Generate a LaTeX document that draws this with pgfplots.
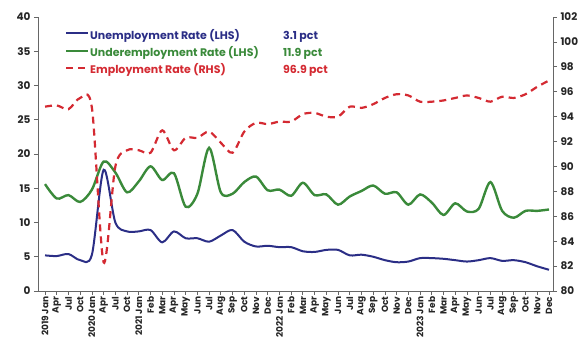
\documentclass[border=0pt]{standalone}
\usepackage{pgfplots}
\usepackage{pgfplotstable}
\pgfplotsset{compat=1.18}
\usepackage{fontspec}
\setmainfont{Poppins}
\definecolor{cblue}{HTML}{2B2E86}
\definecolor{cgreen}{HTML}{3A8A3A}
\definecolor{cred}{HTML}{D42A32}
\definecolor{axgray}{HTML}{666666}

\pgfplotstableread{
i u ud e
0 5.2 15.6 94.8
1 5.1 13.5 94.9
2 5.4 14.0 94.6
3 4.5 13.0 95.5
4 5.3 14.8 94.7
5 17.7 18.9 82.3
6 10.0 17.3 90.0
7 8.7 14.4 91.3
8 8.7 16.0 91.3
9 8.9 18.2 91.1
10 7.1 16.2 92.9
11 8.7 17.2 91.3
12 7.7 12.3 92.3
13 7.7 14.2 92.3
14 7.2 20.9 92.8
15 8.1 14.4 91.9
16 8.9 14.2 91.1
17 7.2 15.9 92.8
18 6.5 16.7 93.5
19 6.6 14.7 93.4
20 6.4 14.8 93.6
21 6.4 13.9 93.6
22 5.8 15.8 94.2
23 5.7 14.0 94.3
24 6.0 14.1 94.0
25 6.0 12.6 94.0
26 5.2 13.8 94.8
27 5.3 14.6 94.7
28 5.0 15.4 95.0
29 4.5 14.2 95.5
30 4.2 14.4 95.8
31 4.3 12.6 95.7
32 4.8 14.1 95.2
33 4.8 12.9 95.2
34 4.7 11.1 95.3
35 4.5 12.8 95.5
36 4.3 11.6 95.7
37 4.5 12.0 95.5
38 4.8 15.9 95.2
39 4.4 11.7 95.6
40 4.5 10.7 95.5
41 4.2 11.7 95.8
42 3.6 11.7 96.4
43 3.1 11.9 96.9
}\data

\pgfplotsset{
  common/.style={
    at={(38pt,51pt)}, anchor=south west,
    width=515pt, height=274pt, scale only axis,
    xmin=-0.6, xmax=43.34,
    tick align=outside, major tick length=4pt,
    axis line style={axgray, line width=0.8pt},
    tick style={axgray, line width=0.8pt},
    /pgf/number format/assume math mode=true,
    y tick label style={font=\fontsize{10.5}{12}\selectfont\bfseries, text=black!85},
  },
}

\begin{document}
\begin{tikzpicture}
\path[use as bounding box] (0,0) rectangle (584pt,342pt);
\begin{axis}[common,
  ymin=0, ymax=40,
  axis x line*=bottom, axis y line*=left,
  ytick={0,5,...,40},
  xtick={0,...,43},
  xticklabels={2019 Jan,Apr,Jul,Oct,2020 Jan,Apr,Jul,Oct,
    2021 Jan,Feb,Mar,Apr,May,Jun,Jul,Aug,Sep,Oct,Nov,Dec,
    2022 Jan,Feb,Mar,Apr,May,Jun,Jul,Aug,Sep,Oct,Nov,Dec,
    2023 Jan,Feb,Mar,Apr,May,Jun,Jul,Aug,Sep,Oct,Nov,Dec},
  x tick label style={rotate=90, anchor=east, font=\fontsize{9}{9}\selectfont\bfseries, text=black!85, inner sep=1.5pt},
  legend style={at={(0.052,0.953)}, anchor=north west, draw=none, fill=none,
    font=\fontsize{11}{12}\selectfont\bfseries, row sep=4.2pt, inner sep=0pt,
    nodes={inner sep=0.8pt, text height=8.5pt, text depth=3pt}},
  legend cell align=left,
  legend image code/.code={\draw[#1] (0pt,3.2pt) -- (22pt,3.2pt);},
]
\addplot[cblue, line width=2pt, smooth, tension=0.5] table[x=i,y=u]{\data};
\addlegendentry{\textcolor{cblue}{\makebox[193pt][l]{Unemployment Rate (LHS)}3.1 pct}}
\addplot[cgreen, line width=2.4pt, smooth, tension=0.5] table[x=i,y=ud]{\data};
\addlegendentry{\textcolor{cgreen}{\makebox[193pt][l]{Underemployment Rate (LHS)}11.9 pct}}
\addlegendimage{cred, line width=2.2pt, dash pattern=on 7pt off 5pt}
\addlegendentry{\textcolor{cred}{\makebox[193pt][l]{Employment Rate (RHS)}96.9 pct}}
\end{axis}
\begin{axis}[common,
  ymin=80, ymax=102,
  axis x line=none, axis y line*=right,
  ytick={80,82,...,102},
]
\addplot[cred, line width=2.2pt, dash pattern=on 7pt off 5pt, smooth, tension=0.5] table[x=i,y=e]{\data};
\end{axis}
\end{tikzpicture}
\end{document}
